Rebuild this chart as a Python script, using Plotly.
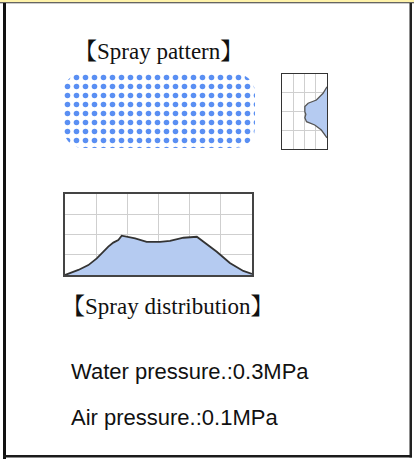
import plotly.graph_objects as go
import numpy as np

W, H = 414, 459

# Spray distribution curve (x in grid columns 0..6, y in grid rows 0..4)
dist_x = [0, 0.43, 0.75, 1.02, 1.39, 1.55, 1.71, 1.82, 2.25, 2.62, 3.05, 3.37, 3.80, 4.23, 4.87, 5.29, 5.72, 6.0]
dist_y = [0, 0.25, 0.49, 0.82, 1.40, 1.60, 1.73, 1.94, 1.81, 1.64, 1.64, 1.68, 1.84, 1.89, 1.15, 0.59, 0.20, 0.05]

# Side-view profile of the spray (x in columns 0..4, y in rows 0..4)
side_x = [4.0, 3.65, 3.06, 2.32, 2.03, 2.03, 2.12, 2.03, 2.18, 2.91, 3.50, 4.0]
side_y = [3.32, 2.97, 2.61, 2.44, 2.26, 1.99, 1.85, 1.67, 1.46, 1.28, 1.01, 0.60]

# Spray pattern footprint (width, height, corner radius in pattern units)
pattern_w, pattern_h, pattern_r = 192, 75, 20

title_pattern = "【Spray pattern】"
title_dist = "【Spray distribution】"
info_lines = ["Water pressure.:0.3MPa", "Air pressure.:0.1MPa"]


def px(x):
    return x / W


def py(y):
    return 1 - y / H


fig = go.Figure()

# rounded-rectangle outline of spray footprint
t = np.linspace(0, np.pi / 2, 12)
r = pattern_r
rx, ry = [], []
corners = [(pattern_w - r, pattern_h - r, 0), (r, pattern_h - r, np.pi / 2),
           (r, r, np.pi), (pattern_w - r, r, 1.5 * np.pi)]
for cx, cy, a0 in corners:
    rx += list(cx + r * np.cos(a0 + t))
    ry += list(cy + r * np.sin(a0 + t))
rx.append(rx[0]); ry.append(ry[0])

fig.add_trace(go.Scatter(
    x=rx, y=ry, mode="lines", line=dict(width=0, color="rgba(0,0,0,0)"),
    fill="toself", fillcolor="white",
    fillpattern=dict(shape=".", fgcolor="#5a8ff3", fgopacity=1, bgcolor="white", size=9, solidity=0.3),
    xaxis="x3", yaxis="y3", hoverinfo="skip"))

fig.add_trace(go.Scatter(
    x=dist_x, y=dist_y, mode="lines", line=dict(color="#333333", width=1.8),
    fill="tozeroy", fillcolor="#b5cbf1", xaxis="x", yaxis="y", hoverinfo="skip"))

fig.add_trace(go.Scatter(
    x=side_x, y=side_y, mode="lines", line=dict(color="#555555", width=1.3),
    fill="toself", fillcolor="#b5cbf1", xaxis="x2", yaxis="y2", hoverinfo="skip"))

grid = dict(showgrid=True, gridcolor="#cfcfcf", gridwidth=1, dtick=1, zeroline=False,
            showticklabels=False, ticks="", showline=True, mirror=True, fixedrange=True)

fig.update_layout(
    width=W, height=H, margin=dict(l=0, r=0, t=0, b=0),
    paper_bgcolor="white", plot_bgcolor="white", showlegend=False,
    xaxis=dict(domain=[px(65), px(252)], range=[0, 6], linecolor="#444", linewidth=2, **grid),
    yaxis=dict(domain=[py(275), py(194)], range=[0, 4], linecolor="#444", linewidth=2, **grid),
    xaxis2=dict(domain=[px(282), px(327)], range=[0, 4], anchor="y2", linecolor="#333", linewidth=1, **grid),
    yaxis2=dict(domain=[py(149), py(74)], range=[0, 4], anchor="x2", linecolor="#333", linewidth=1, **grid),
    xaxis3=dict(domain=[px(63), px(255)], range=[0, pattern_w], anchor="y3", visible=False, fixedrange=True),
    yaxis3=dict(domain=[py(148), py(73)], range=[0, pattern_h], anchor="x3", visible=False, fixedrange=True),
)

serif = "Liberation Serif, Noto Serif CJK JP, Noto Sans CJK JP, serif"
sans = "Liberation Sans, Arial, sans-serif"
fig.add_annotation(x=px(158), y=py(51), xref="paper", yref="paper", text=title_pattern,
                   showarrow=False, font=dict(family=serif, size=23, color="#111"),
                   xanchor="center", yanchor="middle")
fig.add_annotation(x=px(60), y=py(306), xref="paper", yref="paper", text=title_dist,
                   showarrow=False, font=dict(family=serif, size=23, color="#111"),
                   xanchor="left", yanchor="middle")
for i, line in enumerate(info_lines):
    fig.add_annotation(x=px(69), y=py(371 + 46 * i), xref="paper", yref="paper", text=line,
                       showarrow=False, font=dict(family=sans, size=22, color="#111"),
                       xanchor="left", yanchor="middle")

# frame
shapes = [
    dict(x0=0, x1=W, y0=0, y1=2.2, color="#fff3aa"),
    dict(x0=0, x1=W, y0=2.2, y1=3.2, color="#333"),
    dict(x0=3, x1=6, y0=3, y1=H, color="#111"),
    dict(x0=409.5, x1=412, y0=3, y1=457.5, color="#222"),
    dict(x0=3, x1=412, y0=455, y1=457.5, color="#1a1a1a"),
]
for s in shapes:
    fig.add_shape(type="rect", xref="paper", yref="paper",
                  x0=px(s["x0"]), x1=px(s["x1"]), y0=py(s["y1"]), y1=py(s["y0"]),
                  fillcolor=s["color"], line=dict(width=0), layer="above")

fig.write_html("out.html", config=dict(displayModeBar=False),
               post_script="document.body.style.margin='0';document.body.style.padding='0';")
